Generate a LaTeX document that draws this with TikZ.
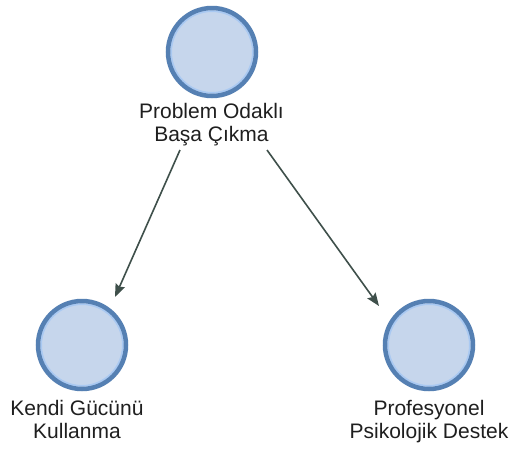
\documentclass[tikz,border=0pt]{standalone}
\usepackage{fontspec}
\setmainfont{Liberation Sans}
\usetikzlibrary{arrows.meta}
\definecolor{cfill}{HTML}{C6D6EC}
\definecolor{cborder}{HTML}{5580B3}
\definecolor{cinner}{HTML}{A9C9F2}
\definecolor{arrowc}{HTML}{3F504B}
\tikzset{
  circ/.style={circle, fill=cfill, draw=cborder, line width=4.5pt, minimum size=88pt, inner sep=0pt,
    path picture={\draw[cinner, line width=1.6pt] (path picture bounding box.center) circle (40.8pt);}},
  lab/.style={font=\fontsize{21pt}{23pt}\selectfont, align=center, inner sep=0pt, text=black!88},
  arr/.style={draw=arrowc, line width=1.6pt, -{Stealth[length=13pt,width=10pt,inset=2pt]}}
}
\begin{document}
\begin{tikzpicture}[x=1pt,y=-1pt]
\useasboundingbox[fill=white] (0,0) rectangle (512,448);
\node[circ] (top) at (212,52) {};
\node[lab, anchor=base] (toplab) at (211.5,141) {Problem Odaklı\\Başa Çıkma};
\node[circ] (left) at (82,345) {};
\node[lab, anchor=base] (leftlab) at (77,438) {Kendi Gücünü\\Kullanma};
\node[circ] (right) at (429,345) {};
\node[lab, anchor=base] (rightlab) at (429,438) {Profesyonel\\Psikolojik Destek};
\coordinate (s1) at (180,150);
\coordinate (e1) at (115,297);
\coordinate (s2) at (267,150);
\coordinate (e2) at (379,306);
\draw[arr] (s1) -- (e1);
\draw[arr] (s2) -- (e2);
\end{tikzpicture}
\end{document}
